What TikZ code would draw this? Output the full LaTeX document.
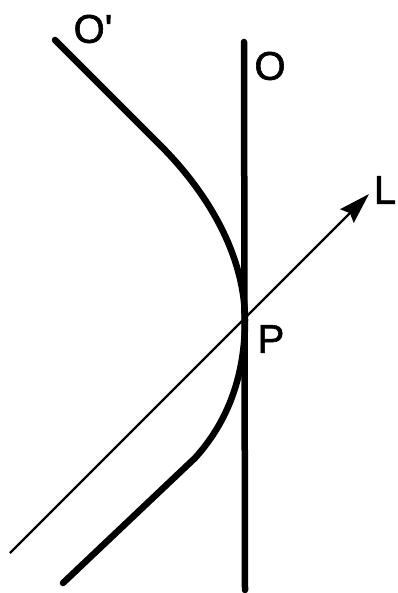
\documentclass[tikz,border=0pt]{standalone}
\usepackage{fontspec}
\newfontfamily\lblfont{Liberation Sans}[FakeBold=1.5]
\usetikzlibrary{arrows.meta,positioning}
\tikzset{every picture/.style={line width=0.75pt}}
\tikzset{
  worldline/.style={line width=6.5pt,line cap=round},
  lightray/.style={line width=2.4pt,-{Stealth[length=31pt,width=19pt,inset=4pt]}},
  lbl/.style={font=\lblfont\fontsize{40}{42}\selectfont,inner sep=0pt}
}

\begin{document}
\begin{tikzpicture}[x=1pt,y=-1pt]
    \useasboundingbox (0,0) rectangle (397,593);

    % Points
    \coordinate (P) at (245,320);
    \coordinate (Otop) at (244,42);
    \coordinate (Obot) at (245,590);
    \coordinate (Qtop) at (55,40);
    \coordinate (Qbot) at (63,583);
    \coordinate (Lstart) at (10,553);
    \coordinate (Lend) at (369,194);

    % Straight world line O
    \draw[worldline] (Otop) -- (Obot);

    % Curved world line O'
    \draw[worldline] (Qtop) -- (160,145) .. controls (217,202) and (245,265) .. (P)
        .. controls (245,380) and (225,425) .. (195,458) -- (Qbot);

    % Light ray L through P
    \draw[lightray] (Lstart) -- (Lend);

    % Labels
    \node[lbl] (labO) at (270,66) {O};
    \node[lbl] (labQ) at (93,29) {O'};
    \node[lbl] (labL) at (385,190) {L};
    \node[lbl] (labP) at (271,339) {P};
\end{tikzpicture}
\end{document}
